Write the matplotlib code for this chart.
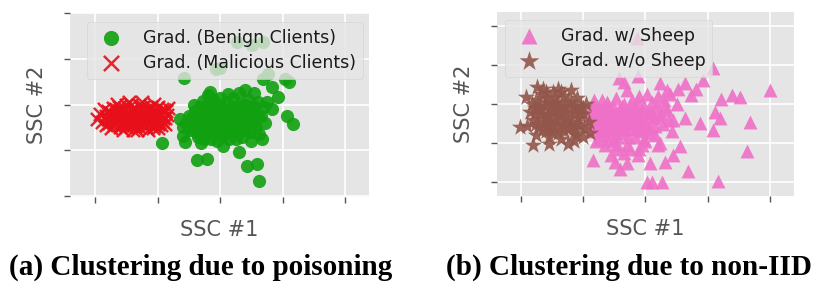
import matplotlib
matplotlib.use("Agg")
import matplotlib.pyplot as plt

plt.style.use("ggplot")

# ---------------- data: panel (a) ----------------
benign_x = [1.55, 1.60, 1.62, 1.68, 1.70, 1.72, 1.78, 1.80, 1.82, 1.85, 1.88, 1.90, 1.92, 1.95, 1.97,
            2.00, 2.02, 2.05, 2.07, 2.10, 2.12, 2.15, 2.18, 2.20, 2.22, 2.25, 2.28, 2.30, 2.33, 2.36,
            2.38, 2.40, 2.44, 2.47, 2.50, 2.52, 2.55, 2.58, 2.60, 1.65, 1.75, 1.95, 2.15, 2.35, 1.50,
            1.45, 1.58, 2.00, 2.20, 2.45, 2.62, 2.65, 2.70, 1.88, 1.40, 1.70, 2.05, 2.50, 2.72, 1.80,
            2.30, 2.55, 2.75, 1.75, 1.85, 1.95, 2.05, 2.15, 2.25, 2.35, 2.45, 1.65, 1.80, 2.00, 2.10,
            2.30, 2.40, 1.58, 1.72, 1.90, 2.08, 2.26, 2.42, 2.56,
            1.55, 1.60, 1.65, 1.70, 1.75, 1.78, 1.85, 1.88, 1.92, 1.98, 2.02, 2.05, 2.10, 2.12, 2.18,
            2.22, 2.25, 2.30, 2.35, 2.38, 2.42, 2.48, 2.52, 2.55, 2.60, 1.50, 1.62, 1.85, 2.25, 2.48,
            1.07, 1.42, 1.94, 2.00, 2.27, 2.51, 2.69, 3.04, 3.10, 2.69, 2.77, 2.83, 2.93, 3.07, 3.17,
            2.43, 2.59, 2.62, 1.63, 1.79, 2.30, 1.84, 2.40, 2.13, 2.83, 2.67, 1.36, 1.41, 1.44]
benign_y = [1.70, 1.85, 1.55, 1.95, 1.45, 1.75, 1.62, 1.90, 2.02, 1.40, 1.70, 1.55, 1.82, 1.98, 1.35,
            1.65, 1.75, 1.50, 1.90, 2.05, 1.60, 1.78, 1.42, 1.95, 1.68, 1.85, 1.55, 2.00, 1.72, 1.48,
            1.88, 1.62, 1.78, 1.95, 1.58, 1.70, 1.85, 1.48, 2.05, 1.30, 1.25, 1.20, 1.25, 1.30, 1.45,
            1.60, 2.00, 2.15, 2.15, 2.10, 1.35, 1.75, 1.95, 2.10, 1.50, 1.15, 1.10, 1.20, 1.60, 2.20,
            2.25, 2.25, 2.05, 1.80, 1.58, 1.45, 1.85, 1.50, 1.62, 1.80, 1.65, 1.62, 1.48, 1.88, 1.35,
            1.40, 1.98, 1.78, 2.08, 1.60, 1.70, 1.95, 1.45, 1.95,
            1.50, 1.62, 1.85, 1.60, 1.95, 1.40, 1.55, 1.85, 1.45, 1.72, 1.95, 1.62, 1.80, 1.45, 1.62,
            1.88, 1.40, 1.70, 1.95, 1.58, 1.85, 1.68, 1.88, 1.55, 1.75, 1.75, 1.40, 1.25, 1.25, 1.40,
            1.15, 2.59, 2.77, 2.80, 3.37, 3.31, 3.37, 2.55, 2.49, 2.55, 2.66, 2.38, 2.16, 1.75, 1.58,
            0.65, 0.69, 0.32, 0.78, 0.82, 0.97, 2.27, 2.31, 2.23, 1.90, 1.25, 1.69, 1.32, 1.19]

malicious_x = [0.03, 0.08, 0.12, 0.18, 0.20, 0.22, 0.25, 0.28, 0.30, 0.33, 0.36, 0.38, 0.40, 0.42, 0.45,
               0.48, 0.50, 0.52, 0.55, 0.57, 0.60, 0.62, 0.65, 0.67, 0.70, 0.72, 0.75, 0.78, 0.80, 0.82,
               0.85, 0.88, 0.90, 0.92, 0.95, 0.97, 1.00, 1.02, 1.05, 1.08, 1.10, 1.12, 1.15, 1.17, 0.26,
               0.45, 0.60, 0.85, 1.00, 0.35, 0.55, 0.75, 0.95, 0.15, 0.30, 0.50, 0.70, 0.88, 1.05, 0.40,
               0.62, 0.78, 0.32, 0.47, 0.58, 0.68, 0.83, 0.93, 1.07, 0.43, 0.53, 0.73, 0.98, 0.24,
               0.20, 0.25, 0.28, 0.35, 0.38, 0.42, 0.47, 0.52, 0.55, 0.58, 0.63, 0.66, 0.70, 0.73, 0.77,
               0.80, 0.83, 0.87, 0.90, 0.93, 0.96, 1.00, 1.03, 1.07, 1.12, 1.14, 0.18, 0.50, 0.70, 0.92]
malicious_y = [1.69, 1.79, 1.62, 1.75, 1.85, 1.60, 1.70, 1.92, 1.55, 1.80, 1.65, 1.95, 1.50, 1.72, 1.85,
               1.60, 1.98, 1.68, 1.78, 1.52, 1.90, 1.62, 1.75, 1.45, 1.98, 1.70, 1.58, 1.85, 1.65, 1.50,
               1.92, 1.75, 1.60, 1.85, 1.52, 1.70, 1.95, 1.62, 1.80, 1.70, 1.88, 1.58, 1.78, 1.92, 1.48,
               1.45, 1.45, 1.45, 1.48, 2.02, 2.05, 2.05, 2.02, 1.90, 1.72, 1.58, 1.82, 1.88, 1.55, 1.88,
               1.68, 1.55, 1.62, 1.78, 1.88, 1.62, 1.72, 1.78, 1.65, 1.55, 1.72, 1.92, 1.62, 1.82,
               1.68, 1.82, 1.62, 1.88, 1.70, 1.58, 1.92, 1.82, 1.65, 1.98, 1.55, 1.88, 1.65, 1.78, 1.95,
               1.75, 1.60, 1.68, 1.95, 1.65, 1.88, 1.58, 1.72, 1.90, 1.70, 1.85, 1.55, 1.50, 1.50, 1.48]

# ---------------- data: panel (b) ----------------
sheep_x = [1.10, 1.12, 1.15, 1.18, 1.20, 1.25, 1.28, 1.30, 1.33, 1.35, 1.38, 1.40, 1.43, 1.45, 1.48,
           1.50, 1.52, 1.55, 1.58, 1.60, 1.62, 1.65, 1.68, 1.70, 1.72, 1.75, 1.78, 1.80, 1.83, 1.85,
           1.88, 1.90, 1.93, 1.95, 1.98, 2.00, 2.03, 2.05, 2.08, 2.10, 2.13, 2.15, 2.18, 2.20, 2.25,
           2.28, 2.30, 2.35, 2.40, 2.42, 1.55, 1.65, 1.90, 2.00, 1.40, 1.25, 2.20, 2.45, 2.50,
           1.30, 1.45, 1.60, 1.75, 1.90, 1.50, 1.70, 1.85, 2.00, 1.35, 1.65, 1.80, 2.10,
           1.12, 1.15, 1.18, 1.22, 1.25, 1.28, 1.32, 1.35, 1.38, 1.42, 1.45, 1.48, 1.52, 1.55, 1.58,
           1.62, 1.65, 1.68, 1.72, 1.75, 1.78, 1.82, 1.85, 1.88, 1.92, 1.95, 1.98, 2.02, 2.05, 1.20,
           1.35, 1.55, 1.75, 1.95, 2.15, 2.20, 2.32, 2.38,
           1.86, 1.57, 1.65, 1.88, 1.70, 2.23, 2.34, 2.63, 2.52, 2.81, 2.74, 2.92, 3.08, 3.21, 3.39,
           3.52, 4.00, 3.11, 3.19, 3.08, 3.68, 3.63, 3.16, 2.68, 2.87, 2.63, 2.55, 2.44, 2.31, 2.26,
           2.10, 2.02, 2.07, 1.88, 1.70, 1.59, 1.51, 1.16, 1.44, 2.23]
sheep_y = [1.80, 1.50, 2.00, 1.30, 1.65, 1.90, 1.45, 2.10, 1.20, 1.70, 1.55, 1.95, 1.35, 1.80, 1.05,
           1.60, 2.15, 1.40, 1.85, 1.25, 1.70, 2.00, 1.50, 0.95, 1.80, 1.35, 2.10, 1.60, 1.15, 1.90,
           1.45, 2.20, 1.70, 1.30, 1.95, 1.55, 2.25, 1.80, 1.40, 2.05, 1.65, 1.20, 1.95, 2.20, 1.75,
           1.50, 2.10, 1.85, 2.25, 1.30, 0.85, 0.75, 0.85, 1.05, 1.10, 1.10, 0.95, 1.60, 2.00,
           1.60, 1.55, 1.45, 1.55, 1.60, 1.75, 1.65, 1.70, 1.40, 1.85, 1.85, 1.90, 1.80,
           1.65, 1.85, 2.10, 1.45, 1.75, 1.30, 1.90, 1.45, 2.05, 1.65, 1.25, 1.95, 1.75, 1.15, 1.55,
           1.95, 1.35, 1.80, 1.15, 1.95, 1.55, 1.80, 1.35, 2.05, 1.55, 1.85, 1.10, 1.70, 1.25, 1.05,
           0.95, 0.98, 0.85, 0.95, 1.45, 1.70, 1.95, 1.60,
           3.69, 2.67, 2.56, 2.72, 2.36, 2.54, 2.36, 2.54, 2.38, 2.38, 2.23, 2.62, 2.92, 2.13, 2.23,
           2.18, 2.36, 1.79, 1.64, 1.33, 1.54, 0.79, 0.03, 0.28, 1.51, 1.64, 0.92, 0.69, 0.51, 0.00,
           0.00, 0.00, 0.49, 0.69, 0.49, 0.33, 0.51, 0.56, 0.69, 1.00]

nosheep_x = [0.20, 0.22, 0.25, 0.28, 0.30, 0.33, 0.35, 0.38, 0.40, 0.42, 0.45, 0.48, 0.50, 0.52, 0.55,
             0.58, 0.60, 0.62, 0.65, 0.68, 0.70, 0.72, 0.75, 0.78, 0.80, 0.82, 0.85, 0.88, 0.90, 0.92,
             0.95, 0.97, 1.00, 1.02, 1.05, 0.25, 0.45, 0.65, 0.85, 0.35, 0.60, 0.80, 0.15, 0.18, 0.55,
             0.75, 0.40, 0.90, 0.30, 0.50, 0.70, 0.85, 0.60, 0.45,
             0.25, 0.30, 0.35, 0.40, 0.45, 0.50, 0.55, 0.60, 0.65, 0.70, 0.75, 0.80, 0.85, 0.90, 0.95,
             1.00, 0.22, 0.35, 0.50, 0.70, 0.85, 0.55, 0.65, 0.40,
             -0.02, 0.08, 0.26, 0.19, 1.11, 1.00, 0.10, 0.45, 0.75, 1.10]
nosheep_y = [1.60, 1.90, 2.10, 1.40, 1.75, 2.25, 1.55, 1.95, 1.30, 2.15, 1.70, 1.85, 1.45, 2.30, 1.60,
             2.05, 1.25, 1.80, 1.95, 1.50, 2.20, 1.70, 1.35, 1.88, 2.05, 1.55, 1.78, 1.20, 2.15, 1.65,
             1.45, 1.95, 1.75, 1.35, 2.00, 1.20, 1.15, 1.10, 1.05, 2.40, 2.40, 2.35, 1.80, 2.00, 1.35,
             1.62, 1.62, 1.90, 1.95, 2.00, 1.45, 1.40, 1.75, 1.40,
             1.50, 1.90, 1.35, 2.05, 1.55, 1.80, 2.15, 1.55, 1.75, 1.30, 2.05, 1.45, 1.95, 1.50, 1.75,
             1.90, 1.75, 1.75, 1.30, 1.95, 1.25, 1.95, 2.30, 2.30,
             1.41, 2.18, 2.44, 0.95, 1.26, 1.15, 1.45, 0.98, 0.98, 1.55]

xticks = [0, 1, 2, 3, 4]
yticks_a = [0, 1, 2, 3, 4]
yticks_b = [0, 1, 2, 3, 4]

# ---------------- figure ----------------
fig = plt.figure(figsize=(8.31, 2.88), dpi=100)
axa = fig.add_axes([0.0842, 0.316, 0.3598, 0.639])
axb = fig.add_axes([0.598, 0.319, 0.357, 0.639])

c_green = "#10a010"
c_red = "#e8101a"
c_pink = "#f070c8"
c_brown = "#93564a"

axa.scatter(benign_x, benign_y, s=90, c=c_green, marker="o", alpha=0.9,
            linewidths=0, label="Grad. (Benign Clients)")
axa.scatter(malicious_x, malicious_y, s=90, c=c_red, marker="x", alpha=0.9,
            linewidths=1.8, label="Grad. (Malicious Clients)")
axa.set_xlim(-0.4, 4.38)
axa.set_ylim(-0.02, 4.0)

axb.scatter(sheep_x, sheep_y, s=100, c=c_pink, marker="^", alpha=0.9,
            linewidths=0, label="Grad. w/ Sheep")
axb.scatter(nosheep_x, nosheep_y, s=170, c=c_brown, marker="*", alpha=0.9,
            linewidths=0, label="Grad. w/o Sheep")
axb.set_xlim(-0.385, 4.38)
axb.set_ylim(-0.36, 4.36)

for ax, yt in ((axa, yticks_a), (axb, yticks_b)):
    ax.set_facecolor("#E5E5E5")
    ax.set_xticks(xticks)
    ax.set_yticks(yt)
    ax.set_xticklabels([])
    ax.set_yticklabels([])
    ax.grid(True, color="white", linewidth=1.2)
    ax.tick_params(axis="both", length=4, width=1, color="#555555", direction="out")
    ax.set_xlabel("SSC #1", fontsize=15, color="#555555", labelpad=9)
    ax.set_ylabel("SSC #2", fontsize=15, color="#555555", labelpad=9)
    for sp in ax.spines.values():
        sp.set_visible(False)

leg_kw = dict(fontsize=12.5, markerscale=1.15, framealpha=0.8, facecolor="#E5E5E5",
              edgecolor="#D0D0D0", handletextpad=0.8, borderpad=0.4,
              labelspacing=0.4, borderaxespad=0.0)
leg_a = axa.legend(loc="upper left", bbox_to_anchor=(0.057, 0.951), **leg_kw)
leg_b = axb.legend(loc="upper left", bbox_to_anchor=(0.027, 0.957), **leg_kw)
for leg in (leg_a, leg_b):
    for t in leg.get_texts():
        t.set_color("#1a1a1a")

fig.text(0.241, 0.073, "(a) Clustering due to poisoning", ha="center", va="center",
         fontsize=21, fontweight="bold", family="Liberation Serif")
fig.text(0.757, 0.073, "(b) Clustering due to non-IID", ha="center", va="center",
         fontsize=21, fontweight="bold", family="Liberation Serif")

fig.savefig("out.png", dpi=100)
